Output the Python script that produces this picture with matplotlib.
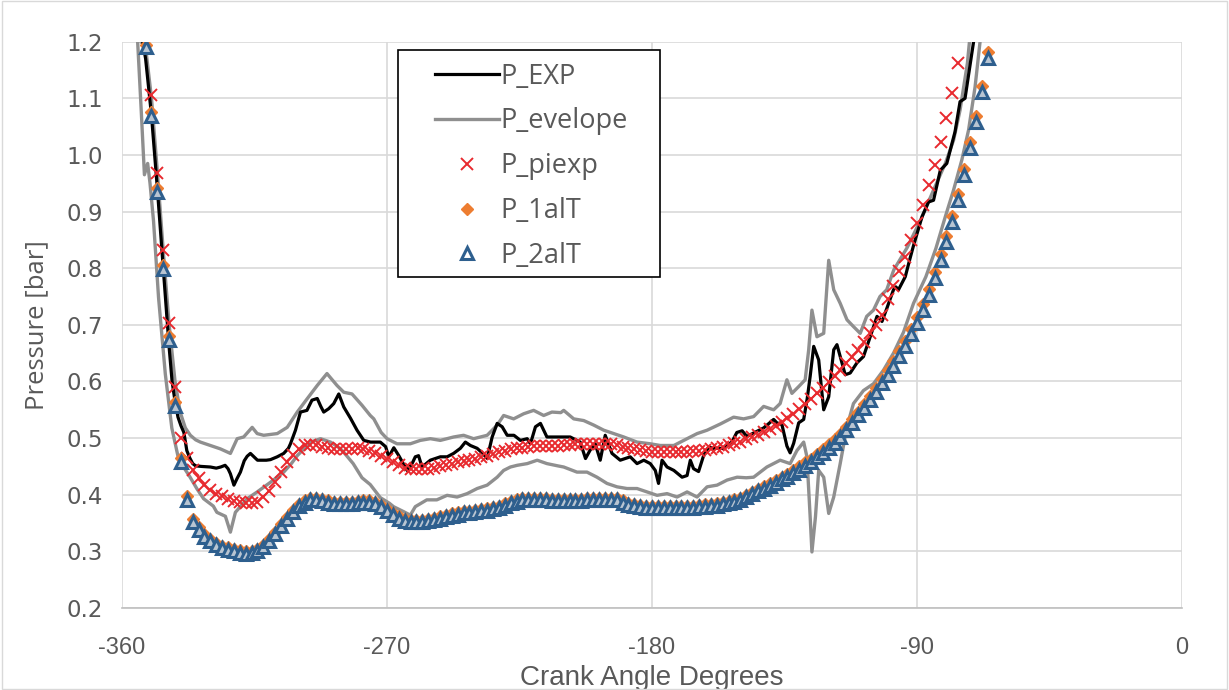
import numpy as np
import matplotlib
matplotlib.use("Agg")
import matplotlib.pyplot as plt
from matplotlib.lines import Line2D
from matplotlib.patches import Rectangle

# crank angle grids of the model series (one point every 2 degrees)
model_deg = np.arange(-352, -65, 2)
piexp_deg = np.arange(-350, -75, 2)

p_2alt = [1.190, 1.068, 0.935, 0.799, 0.674, 0.556, 0.458, 0.390, 0.352,
          0.338, 0.326, 0.318, 0.311, 0.306, 0.303, 0.300, 0.298, 0.296, 0.297,
          0.301, 0.308, 0.318, 0.331, 0.344, 0.357, 0.369, 0.380, 0.386, 0.390,
          0.391, 0.389, 0.386, 0.384, 0.383, 0.383, 0.384, 0.385, 0.386, 0.386,
          0.383, 0.378, 0.371, 0.364, 0.358, 0.354, 0.352, 0.352, 0.352, 0.353,
          0.355, 0.358, 0.361, 0.363, 0.365, 0.367, 0.368, 0.369, 0.371, 0.372,
          0.374, 0.377, 0.381, 0.385, 0.388, 0.390, 0.391, 0.391, 0.391, 0.390,
          0.389, 0.389, 0.389, 0.389, 0.389, 0.389, 0.390, 0.391, 0.391, 0.391,
          0.391, 0.390, 0.386, 0.382, 0.380, 0.378, 0.377, 0.376, 0.376, 0.376,
          0.376, 0.376, 0.376, 0.377, 0.377, 0.378, 0.379, 0.380, 0.381, 0.383,
          0.385, 0.388, 0.391, 0.396, 0.401, 0.406, 0.411, 0.416, 0.421, 0.427,
          0.432, 0.438, 0.444, 0.451, 0.458, 0.466, 0.474, 0.483, 0.492, 0.502,
          0.514, 0.527, 0.540, 0.553, 0.567, 0.582, 0.597, 0.612, 0.628, 0.645,
          0.663, 0.683, 0.704, 0.726, 0.753, 0.783, 0.815, 0.847, 0.882, 0.921,
          0.965, 1.013, 1.059, 1.112, 1.172]

p_1alt = [1.195, 1.075, 0.942, 0.806, 0.681, 0.563, 0.465, 0.397, 0.358,
          0.343, 0.331, 0.322, 0.315, 0.310, 0.307, 0.304, 0.302, 0.300, 0.301,
          0.305, 0.312, 0.322, 0.335, 0.348, 0.361, 0.373, 0.384, 0.390, 0.394,
          0.395, 0.393, 0.390, 0.388, 0.387, 0.387, 0.388, 0.389, 0.390, 0.390,
          0.387, 0.382, 0.375, 0.368, 0.362, 0.358, 0.356, 0.356, 0.356, 0.357,
          0.359, 0.362, 0.365, 0.367, 0.369, 0.371, 0.372, 0.373, 0.375, 0.376,
          0.378, 0.381, 0.385, 0.389, 0.392, 0.394, 0.395, 0.395, 0.395, 0.394,
          0.393, 0.393, 0.393, 0.393, 0.393, 0.393, 0.394, 0.395, 0.395, 0.395,
          0.395, 0.394, 0.390, 0.386, 0.384, 0.382, 0.381, 0.380, 0.380, 0.380,
          0.380, 0.380, 0.380, 0.381, 0.381, 0.382, 0.383, 0.384, 0.385, 0.387,
          0.389, 0.392, 0.395, 0.400, 0.405, 0.410, 0.415, 0.420, 0.426, 0.432,
          0.437, 0.443, 0.450, 0.457, 0.464, 0.472, 0.480, 0.489, 0.498, 0.508,
          0.520, 0.533, 0.547, 0.560, 0.574, 0.589, 0.604, 0.620, 0.636, 0.653,
          0.671, 0.692, 0.713, 0.736, 0.763, 0.793, 0.825, 0.857, 0.892, 0.931,
          0.975, 1.023, 1.069, 1.122, 1.182]

p_piexp = [1.106, 0.969, 0.832, 0.704, 0.590, 0.500, 0.465, 0.444, 0.429,
           0.417, 0.408, 0.401, 0.397, 0.393, 0.389, 0.387, 0.385, 0.385, 0.388,
           0.396, 0.407, 0.422, 0.440, 0.457, 0.471, 0.481, 0.487, 0.488, 0.487,
           0.485, 0.483, 0.481, 0.480, 0.480, 0.481, 0.482, 0.481, 0.478, 0.474,
           0.469, 0.463, 0.457, 0.452, 0.448, 0.446, 0.445, 0.445, 0.446, 0.448,
           0.450, 0.452, 0.455, 0.457, 0.459, 0.461, 0.464, 0.467, 0.469, 0.472,
           0.475, 0.478, 0.480, 0.482, 0.483, 0.485, 0.486, 0.486, 0.486, 0.486,
           0.486, 0.487, 0.488, 0.489, 0.490, 0.490, 0.490, 0.490, 0.490, 0.489,
           0.487, 0.485, 0.483, 0.481, 0.479, 0.477, 0.476, 0.475, 0.475, 0.475,
           0.475, 0.475, 0.476, 0.477, 0.478, 0.479, 0.481, 0.483, 0.485, 0.488,
           0.491, 0.494, 0.498, 0.502, 0.506, 0.511, 0.516, 0.522, 0.528, 0.535,
           0.543, 0.551, 0.560, 0.569, 0.579, 0.589, 0.599, 0.610, 0.621, 0.632,
           0.643, 0.656, 0.670, 0.685, 0.700, 0.717, 0.745, 0.768, 0.795, 0.820,
           0.850, 0.880, 0.911, 0.947, 0.982, 1.022, 1.065, 1.110, 1.162]

# measured pressure (black trace)
exp_deg = [-353.0, -352.0, -350.0, -348.0, -346.0, -344.0, -343.0, -342.0, -341.0, -340.0,
           -339.0, -338.0, -337.0, -336.0, -335.0, -333.0, -330.0, -328.0, -326.5, -325.0,
           -324.0, -323.2, -322.0, -321.0, -319.8, -318.5, -317.5, -316.4, -315.0, -314.0,
           -311.0, -309.6, -307.3, -305.1, -303.5, -302.8, -301.1, -299.4, -297.2, -295.5,
           -293.7, -292.5, -291.5, -289.8, -288.1, -286.4, -284.7, -282.4, -280.2, -277.9,
           -275.6, -272.3, -270.5, -269.4, -267.7, -266.0, -264.5, -263.2, -261.5, -260.4,
           -259.3, -258.1, -255.3, -251.9, -249.6, -247.4, -245.1, -243.4, -241.7, -239.4,
           -237.5, -236.0, -234.3, -232.6, -230.9, -229.2, -226.9, -224.7, -222.4, -221.3,
           -219.6, -217.9, -215.7, -211.1, -207.8, -204.4, -202.6, -201.0, -199.3, -197.6,
           -195.9, -193.6, -190.8, -187.4, -185.1, -182.8, -180.6, -178.9, -177.8, -176.6,
           -174.9, -172.6, -169.8, -168.1, -167.0, -165.9, -164.2, -162.5, -160.8, -159.1,
           -155.7, -152.9, -151.2, -149.4, -147.8, -145.5, -142.1, -138.7, -137.6, -135.9,
           -134.2, -133.1, -131.9, -130.2, -128.5, -127.3, -126.3, -125.1, -123.4, -122.5,
           -121.7, -120.0, -118.3, -117.2, -116.1, -114.4, -112.7, -110.4, -108.2, -105.9,
           -103.6, -101.9, -100.2, -98.0, -97.2, -96.3, -94.0, -92.5, -91.2, -88.3,
           -86.1, -84.4, -82.1, -79.9, -77.1, -75.4, -73.7, -70.8, -70.0]
exp_p = [1.200, 1.170, 1.070, 0.940, 0.800, 0.660, 0.600, 0.565, 0.537, 0.522,
         0.510, 0.478, 0.465, 0.455, 0.451, 0.450, 0.449, 0.447, 0.449, 0.452,
         0.446, 0.437, 0.417, 0.428, 0.440, 0.460, 0.468, 0.473, 0.466, 0.461,
         0.461, 0.462, 0.467, 0.473, 0.482, 0.490, 0.514, 0.546, 0.549, 0.567,
         0.570, 0.556, 0.546, 0.552, 0.561, 0.578, 0.555, 0.535, 0.514, 0.496,
         0.493, 0.493, 0.485, 0.467, 0.483, 0.469, 0.455, 0.443, 0.455, 0.467,
         0.469, 0.449, 0.461, 0.467, 0.467, 0.473, 0.482, 0.493, 0.487, 0.482,
         0.473, 0.464, 0.502, 0.526, 0.520, 0.505, 0.505, 0.496, 0.499, 0.490,
         0.520, 0.526, 0.502, 0.502, 0.502, 0.493, 0.464, 0.479, 0.490, 0.461,
         0.505, 0.473, 0.461, 0.467, 0.455, 0.461, 0.455, 0.443, 0.420, 0.461,
         0.449, 0.443, 0.431, 0.434, 0.461, 0.446, 0.441, 0.469, 0.484, 0.482,
         0.482, 0.493, 0.510, 0.513, 0.503, 0.509, 0.518, 0.533, 0.527, 0.524,
         0.486, 0.474, 0.491, 0.527, 0.533, 0.570, 0.609, 0.662, 0.638, 0.590,
         0.550, 0.573, 0.656, 0.665, 0.644, 0.612, 0.615, 0.633, 0.644, 0.679,
         0.715, 0.706, 0.730, 0.762, 0.767, 0.762, 0.785, 0.815, 0.840, 0.891,
         0.917, 0.920, 0.973, 0.985, 1.041, 1.094, 1.100, 1.200, 1.230]

# envelope, upper branch
env_hi_deg = [-353.6, -352.0, -350.0, -348.0, -346.0, -344.0, -342.0, -340.2, -338.5, -336.8,
              -335.0, -333.4, -330.0, -326.6, -323.2, -320.9, -318.7, -315.8, -314.1, -311.9,
              -307.3, -303.9, -300.5, -297.2, -293.7, -290.4, -287.0, -284.7, -281.9, -278.5,
              -275.7, -274.5, -272.0, -270.0, -266.6, -262.1, -258.7, -255.3, -251.9, -247.4,
              -244.0, -240.6, -236.0, -232.6, -230.4, -227.0, -223.6, -220.2, -216.8, -214.0,
              -211.0, -210.0, -206.6, -203.2, -199.8, -196.4, -193.0, -189.6, -185.1, -180.6,
              -177.2, -172.6, -168.1, -164.7, -161.3, -156.8, -152.3, -148.9, -145.5, -142.1,
              -138.7, -136.5, -134.2, -132.5, -130.2, -128.0, -126.8, -125.7, -124.0, -121.7,
              -120.0, -118.3, -116.1, -113.8, -111.6, -109.3, -107.1, -104.8, -102.6, -100.3,
              -97.9, -93.4, -88.8, -84.4, -80.4, -77.6, -75.4, -72.9, -72.2, -71.5]
env_hi_p = [1.200, 1.190, 1.100, 0.970, 0.830, 0.700, 0.600, 0.545, 0.518, 0.505,
            0.497, 0.493, 0.487, 0.481, 0.473, 0.499, 0.502, 0.519, 0.508, 0.505,
            0.508, 0.519, 0.546, 0.569, 0.593, 0.614, 0.593, 0.581, 0.578, 0.558,
            0.540, 0.534, 0.510, 0.499, 0.490, 0.490, 0.496, 0.499, 0.496, 0.502,
            0.505, 0.499, 0.505, 0.523, 0.540, 0.534, 0.543, 0.549, 0.540, 0.546,
            0.545, 0.549, 0.534, 0.531, 0.523, 0.514, 0.508, 0.502, 0.493, 0.490,
            0.487, 0.487, 0.499, 0.508, 0.514, 0.525, 0.537, 0.534, 0.538, 0.556,
            0.550, 0.561, 0.603, 0.579, 0.591, 0.603, 0.656, 0.726, 0.679, 0.685,
            0.814, 0.762, 0.738, 0.709, 0.697, 0.685, 0.715, 0.726, 0.750, 0.762,
            0.797, 0.836, 0.885, 0.938, 0.985, 1.026, 1.079, 1.162, 1.200, 1.230]

# envelope, lower branch
env_lo_deg = [-354.7, -353.5, -352.4, -351.3, -350.5, -349.3, -347.6, -345.3, -343.1, -341.0,
              -339.0, -337.0, -334.5, -332.3, -329.0, -327.8, -324.9, -323.2, -321.5, -317.5,
              -314.1, -309.6, -305.1, -302.5, -300.5, -296.0, -292.6, -289.2, -286.0, -284.7,
              -281.5, -278.5, -275.7, -272.3, -269.2, -267.8, -264.3, -262.1, -260.4, -256.5,
              -253.1, -249.6, -246.2, -242.8, -239.4, -236.0, -232.6, -230.4, -228.1, -225.8,
              -222.4, -219.0, -215.7, -212.0, -210.0, -205.5, -202.1, -198.7, -195.3, -191.9,
              -188.5, -185.1, -181.7, -178.3, -174.9, -171.5, -168.1, -164.7, -161.3, -157.9,
              -154.5, -151.1, -148.0, -145.5, -141.0, -136.5, -133.1, -130.8, -128.5, -127.4,
              -126.3, -125.7, -124.5, -123.4, -121.7, -120.0, -118.3, -116.1, -113.8, -111.6,
              -108.2, -104.8, -101.4, -98.0, -94.6, -91.2, -87.0, -83.6, -80.4, -77.6,
              -74.8, -72.5, -70.3, -68.6, -68.0]
env_lo_p = [1.200, 1.080, 0.965, 0.985, 0.950, 0.883, 0.748, 0.613, 0.518, 0.468,
            0.448, 0.432, 0.410, 0.393, 0.380, 0.369, 0.362, 0.334, 0.369, 0.393,
            0.405, 0.422, 0.440, 0.455, 0.469, 0.493, 0.499, 0.493, 0.482, 0.475,
            0.455, 0.430, 0.418, 0.395, 0.385, 0.379, 0.370, 0.364, 0.379, 0.391,
            0.391, 0.399, 0.396, 0.402, 0.411, 0.417, 0.431, 0.443, 0.449, 0.452,
            0.455, 0.461, 0.455, 0.451, 0.449, 0.440, 0.440, 0.431, 0.420, 0.414,
            0.411, 0.411, 0.405, 0.399, 0.402, 0.396, 0.405, 0.396, 0.414, 0.417,
            0.426, 0.431, 0.430, 0.431, 0.449, 0.461, 0.455, 0.478, 0.493, 0.467,
            0.361, 0.299, 0.361, 0.443, 0.431, 0.367, 0.396, 0.455, 0.520, 0.561,
            0.584, 0.596, 0.620, 0.650, 0.687, 0.738, 0.785, 0.835, 0.891, 0.938,
            0.991, 1.044, 1.120, 1.200, 1.230]

x_ticks = [-360, -270, -180, -90, 0]
x_labels = ["-360", "-270", "-180", "-90", "0"]
y_ticks = [0.2, 0.3, 0.4, 0.5, 0.6, 0.7, 0.8, 0.9, 1.0, 1.1, 1.2]

txt_gray = "#595959"
env_gray = "#8f8f8f"
red = "#e8292e"
orange = "#ed7d31"
blue = "#2e5f8e"

fig = plt.figure(figsize=(12.29, 6.90), dpi=100)
ax = fig.add_axes([0.0993, 0.1188, 0.8625, 0.8208])

ax.plot(env_hi_deg, env_hi_p, color=env_gray, lw=2.4, zorder=2)
ax.plot(env_lo_deg, env_lo_p, color=env_gray, lw=2.4, zorder=2)
ax.plot(exp_deg, exp_p, color="black", lw=2.3, zorder=3)
ax.plot(piexp_deg, p_piexp, ls="none", marker="x", ms=8, mew=1.4, color=red, zorder=4)
ax.plot(model_deg, p_1alt, ls="none", marker="D", ms=6, color=orange, mec=orange, zorder=5)
ax.plot(model_deg, p_2alt, ls="none", marker="^", ms=8, mew=2.2, mec=blue, mfc="#b9c5d2", zorder=6)

ax.set_xlim(-360, 0)
ax.set_ylim(0.2, 1.2)
ax.set_xticks(x_ticks)
ax.set_xticklabels(x_labels)
ax.set_yticks(y_ticks)
ax.set_yticklabels([f"{v:.1f}" for v in y_ticks])
ax.grid(True, color="#d9d9d9", lw=1.2)
ax.set_axisbelow(True)
for s in ["top", "right", "left"]:
    ax.spines[s].set_visible(False)
ax.spines["bottom"].set_color("#bfbfbf")
ax.spines["bottom"].set_linewidth(1.2)
ax.tick_params(axis="x", length=0, pad=21)
ax.tick_params(axis="y", length=0, pad=14)

for lab in ax.get_xticklabels():
    lab.set_fontfamily("Liberation Sans")
    lab.set_fontsize(17)
    lab.set_color(txt_gray)
for lab in ax.get_yticklabels():
    lab.set_fontfamily("DejaVu Sans")
    lab.set_fontsize(16.5)
    lab.set_color(txt_gray)

ax.set_xlabel("Crank Angle Degrees", fontsize=20, color=txt_gray,
              family="Liberation Sans", labelpad=4)
ax.set_ylabel("Pressure [bar]", fontsize=18.5, color=txt_gray, family="Open Sans", labelpad=12)

# legend box drawn separately so its padding can match the reference
ax.add_patch(Rectangle((0.2604, 0.5845), 0.2472, 0.4009, transform=ax.transAxes,
                       facecolor="white", edgecolor="black", lw=1.2, zorder=9))
handles = [
    Line2D([], [], color="black", lw=2.3),
    Line2D([], [], color=env_gray, lw=2.4),
    Line2D([], [], ls="none", marker="x", ms=8, mew=1.4, color=red),
    Line2D([], [], ls="none", marker="D", ms=6.5, color=orange),
    Line2D([], [], ls="none", marker="^", ms=8, mew=2.2, mec=blue, mfc="white"),
]
names = ["P_EXP", "P_evelope", "P_piexp", "P_1alT", "P_2alT"]
leg = ax.legend(handles, names, loc="upper left", bbox_to_anchor=(0.2953, 0.963),
                frameon=False, handlelength=2.35, handletextpad=0.05, labelspacing=0.62,
                borderpad=0, borderaxespad=0, prop={"family": "Open Sans", "size": 19.5})
leg.set_zorder(10)
for t in leg.get_texts():
    t.set_color(txt_gray)

fig.patches.append(Rectangle((0.002, 0.002), 0.996, 0.996, transform=fig.transFigure,
                             fill=False, edgecolor="#d9d9d9", lw=1))

fig.savefig("out.png", dpi=100)
